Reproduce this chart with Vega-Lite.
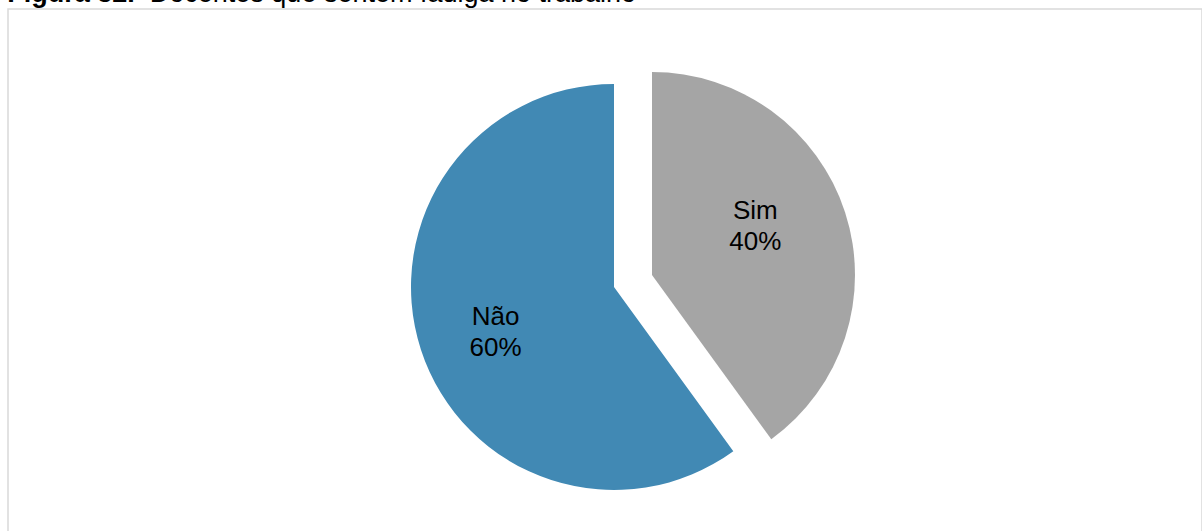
{
  "$schema": "https://vega.github.io/schema/vega-lite/v6.json",
  "autosize": "none",
  "width": 1194,
  "height": 556,
  "padding": {"left": 8, "top": 9, "right": 0, "bottom": 0},
  "background": "white",
  "title": {
    "text": "Figura 32.",
    "subtitle": "\u200b\u00a0\u00a0\u00a0\u00a0\u00a0\u00a0\u00a0\u00a0\u00a0\u00a0\u00a0\u00a0\u00a0\u00a0\u00a0\u00a0\u00a0\u00a0\u00a0Docentes que sentem fadiga no trabalho",
    "anchor": "start",
    "font": "Liberation Sans",
    "fontSize": 27,
    "fontWeight": "bold",
    "color": "black",
    "subtitleFont": "Liberation Sans",
    "subtitleFontSize": 27,
    "subtitleFontWeight": "normal",
    "subtitleColor": "black",
    "subtitlePadding": -27,
    "offset": 0
  },
  "data": {
    "values": [
      {"categoria": "Sim", "valor": 40, "rotulo": "Sim\n40%"},
      {"categoria": "Não", "valor": 60, "rotulo": "Não\n60%"}
    ]
  },
  "layer": [
    {
      "data": {"values": [{"moldura": 1}]},
      "mark": {"type": "rect", "fill": null, "stroke": "#d9d9d9", "strokeWidth": 1.5},
      "encoding": {
        "x": {"value": 0},
        "x2": {"value": "width"},
        "y": {"value": 0},
        "y2": {"value": "height"}
      }
    },
    {
      "mark": {
        "type": "arc",
        "outerRadius": 203,
        "xOffset": {"expr": "datum.categoria === 'Sim' ? 47 : 9"},
        "yOffset": {"expr": "datum.categoria === 'Sim' ? -12 : 0"}
      },
      "encoding": {
        "theta": {"field": "valor", "type": "quantitative", "stack": true},
        "order": {"field": "valor", "type": "quantitative", "sort": "ascending"},
        "color": {
          "field": "categoria",
          "type": "nominal",
          "scale": {"domain": ["Sim", "Não"], "range": ["#A5A5A5", "#4189B4"]},
          "legend": null
        }
      }
    },
    {
      "mark": {
        "type": "text",
        "radius": 115,
        "font": "Liberation Sans",
        "fontSize": 26,
        "lineHeight": 31,
        "lineBreak": "\n",
        "color": "black",
        "align": "center",
        "baseline": "middle",
        "xOffset": {"expr": "datum.categoria === 'Sim' ? 41 : 0"},
        "yOffset": {"expr": "datum.categoria === 'Sim' ? -40 : -6"}
      },
      "encoding": {
        "theta": {"field": "valor", "type": "quantitative", "stack": true},
        "order": {"field": "valor", "type": "quantitative", "sort": "ascending"},
        "text": {"field": "rotulo", "type": "nominal"}
      }
    }
  ],
  "config": {
    "view": {"stroke": null}
  }
}
